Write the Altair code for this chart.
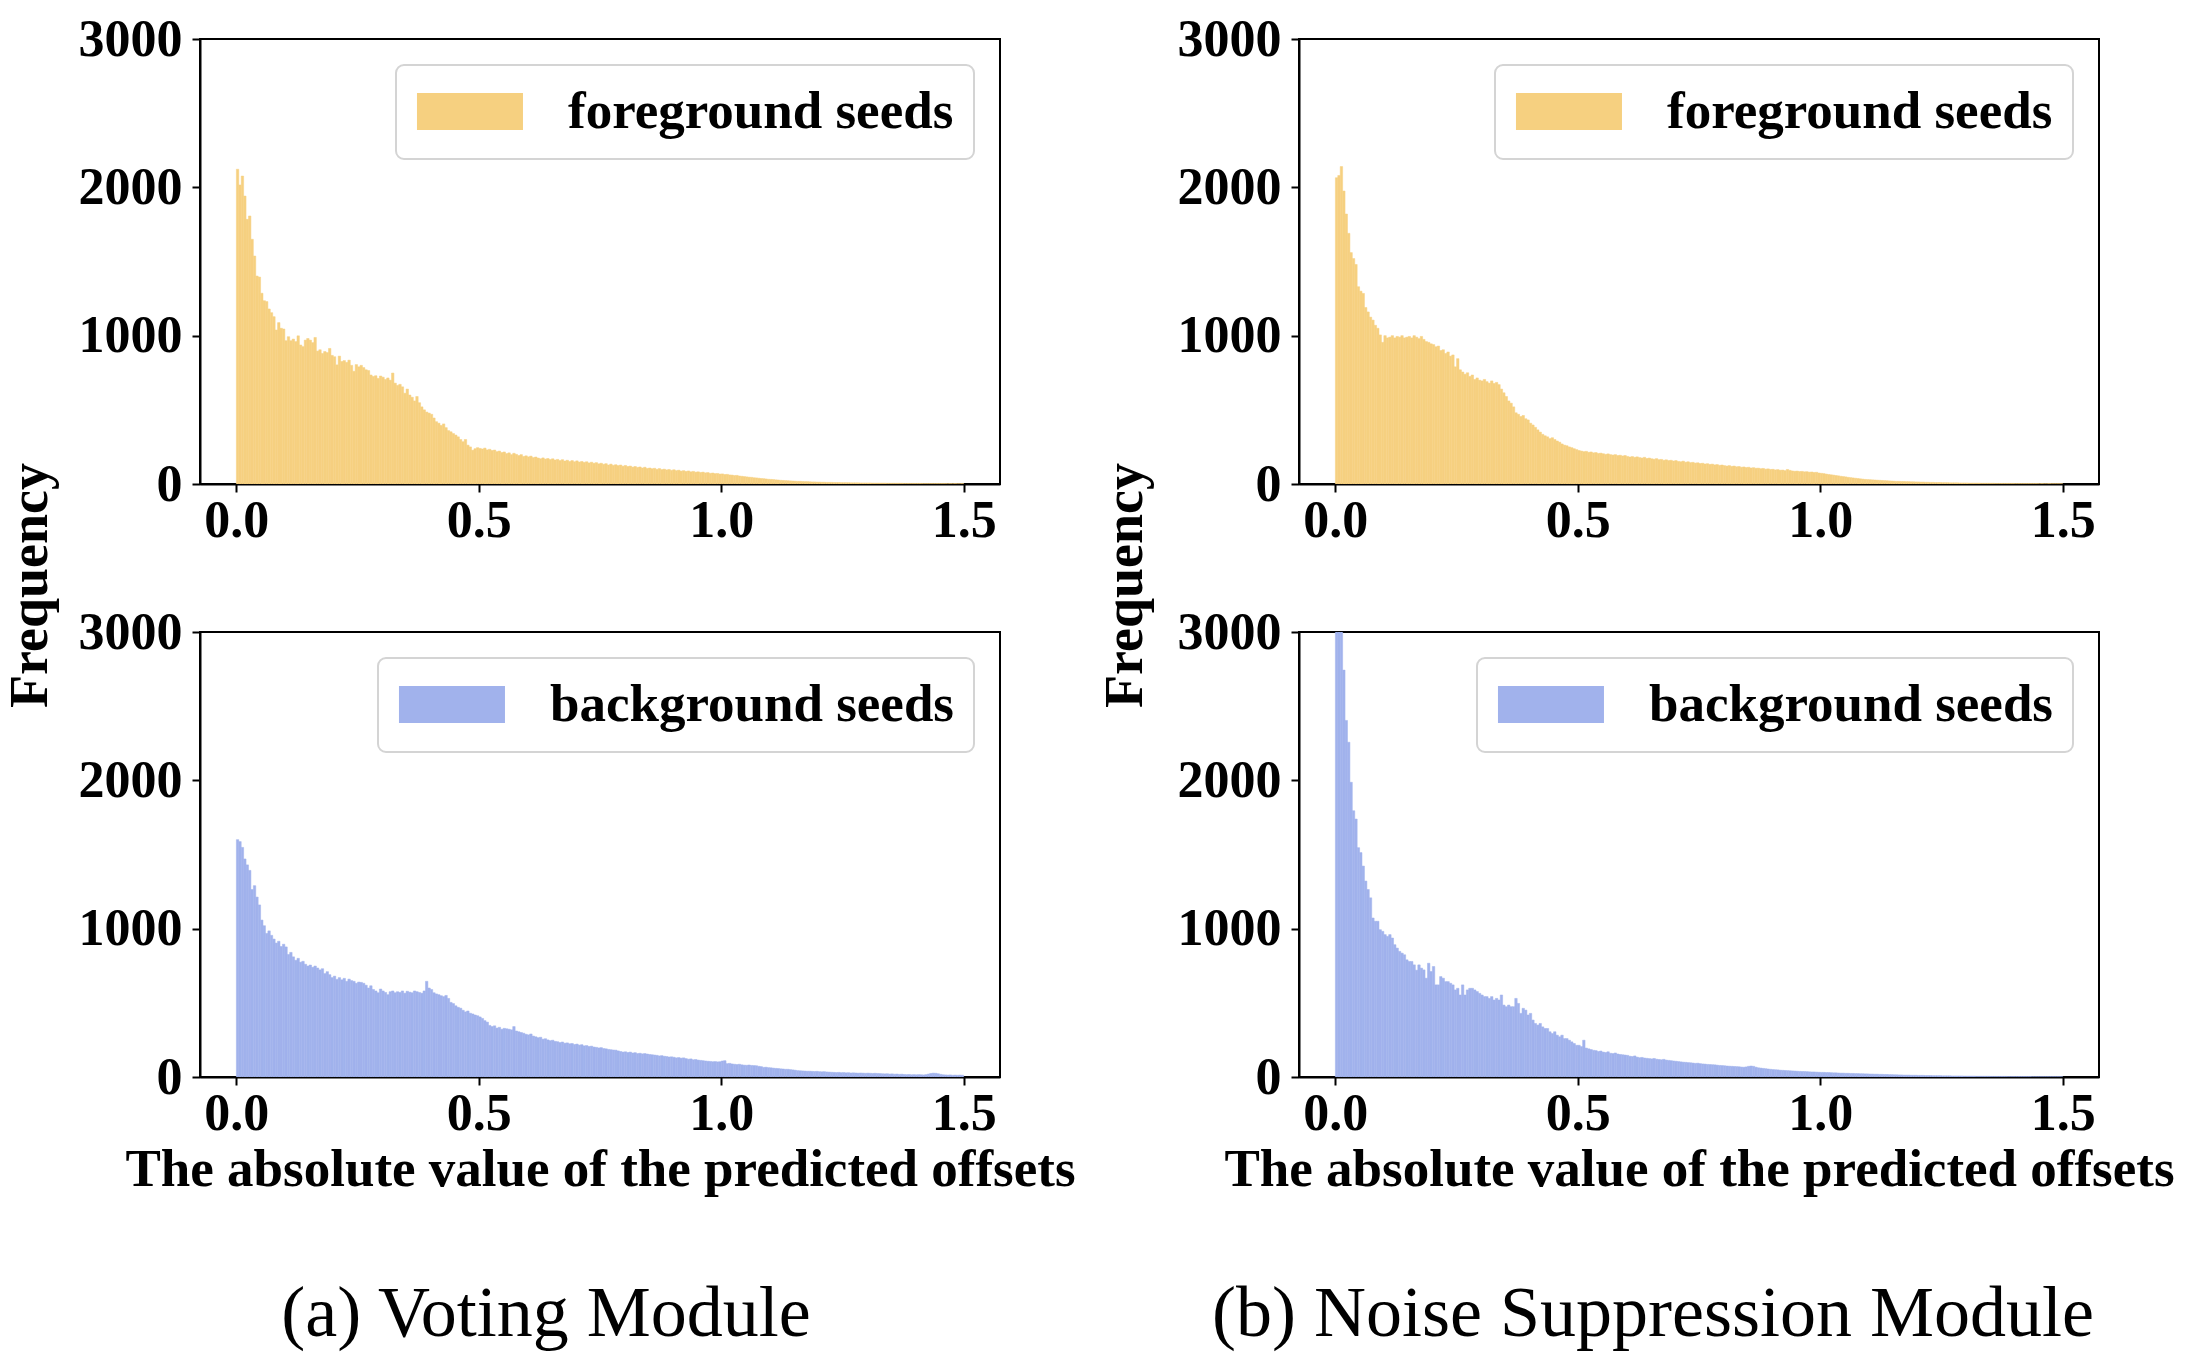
import altair as alt
import pandas as pd

# ---------------- data ----------------
BIN_WIDTH = 0.005
X_DOMAIN = [-0.075, 1.575]
Y_DOMAIN = [0, 3000]
X_TICKS = [0.0, 0.5, 1.0, 1.5]
Y_TICKS = [0, 1000, 2000, 3000]

SERIES = ["foreground seeds", "background seeds"]
COLORS = ["#f6d080", "#a1b2ec"]
CAPTIONS = ["(a) Voting Module", "(b) Noise Suppression Module"]
X_TITLE = "The absolute value of the predicted offsets"
Y_TITLE = "Frequency"

# (a) Voting Module, foreground seeds: counts per bin of width 0.005 on [0, 1.5)
FG_VOTE = [
    2122, 2016, 2076, 1941, 1784, 1807, 1650, 1537, 1402, 1395, 1286, 1236, 1230, 1180, 1155, 1128, 1038, 1088, 1050, 1045,
    966, 993, 966, 977, 960, 999, 937, 926, 970, 981, 970, 953, 988, 896, 905, 880, 893, 886, 914, 867,
    858, 803, 862, 826, 832, 820, 835, 800, 760, 805, 790, 800, 785, 770, 765, 735, 725, 730, 712, 728,
    720, 705, 715, 700, 748, 680, 665, 672, 655, 612, 640, 600, 585, 560, 590, 548, 520, 500, 485, 478,
    470, 445, 420, 410, 395, 405, 380, 360, 352, 340, 330, 318, 300, 285, 300, 262, 250, 228, 238, 245,
    240, 236, 242, 230, 234, 226, 229, 218, 222, 212, 216, 205, 210, 198, 207, 200, 192, 198, 186, 190,
    183, 188, 178, 182, 175, 170, 176, 168, 172, 165, 170, 162, 166, 158, 164, 155, 160, 152, 158, 150,
    156, 148, 152, 146, 150, 142, 147, 140, 144, 136, 140, 133, 137, 128, 134, 126, 130, 124, 128, 120,
    125, 118, 121, 114, 118, 112, 115, 108, 113, 105, 108, 103, 106, 99, 104, 97, 100, 95, 98, 92,
    96, 90, 93, 87, 90, 85, 88, 82, 85, 80, 82, 78, 80, 75, 77, 72, 74, 70, 71, 67,
    68, 64, 65, 61, 60, 57, 58, 54, 52, 50, 48, 46, 45, 42, 41, 39, 37, 36, 34, 32,
    31, 30, 28, 27, 25, 24, 23, 22, 21, 20, 19, 18, 18, 17, 16, 16, 15, 14, 14, 13,
    13, 12, 12, 11, 11, 11, 10, 10, 10, 9, 9, 9, 9, 8, 8, 8, 8, 7, 7, 7,
    7, 7, 6, 6, 6, 6, 6, 6, 5, 5, 5, 5, 5, 5, 5, 4, 4, 4, 4, 4,
    4, 4, 4, 3, 3, 3, 3, 3, 3, 3, 3, 3, 3, 2, 3, 2, 3, 2, 2, 3,
]

# (a) Voting Module, background seeds
BG_VOTE = [
    1600, 1587, 1548, 1470, 1430, 1393, 1264, 1290, 1213, 1160, 1058, 1020, 968, 985, 955, 930, 903, 915, 880, 895,
    877, 826, 840, 810, 787, 800, 774, 780, 760, 748, 755, 740, 748, 735, 722, 730, 697, 710, 690, 670,
    680, 658, 670, 655, 665, 645, 660, 650, 645, 632, 640, 638, 632, 619, 600, 615, 590, 580, 568, 593,
    580, 570, 555, 575, 580, 568, 575, 570, 580, 565, 578, 572, 568, 580, 575, 570, 565, 580, 645, 600,
    590, 568, 560, 555, 548, 542, 550, 530, 503, 495, 480, 470, 464, 450, 439, 445, 430, 425, 418, 413,
    405, 395, 380, 370, 348, 340, 345, 330, 335, 322, 328, 325, 322, 318, 340, 310, 305, 300, 295, 288,
    284, 290, 276, 271, 265, 268, 255, 258, 250, 245, 248, 240, 238, 232, 236, 228, 230, 224, 226, 219,
    222, 215, 218, 210, 212, 206, 208, 202, 200, 196, 198, 192, 190, 186, 184, 182, 181, 176, 172, 168,
    170, 165, 168, 162, 164, 158, 160, 156, 158, 155, 152, 150, 148, 146, 142, 144, 140, 138, 135, 136,
    133, 129, 131, 127, 129, 124, 120, 122, 116, 118, 114, 112, 110, 108, 106, 105, 103, 104, 102, 103,
    108, 110, 90, 92, 88, 86, 84, 86, 82, 80, 79, 81, 78, 77, 76, 72, 70, 65, 66, 63,
    62, 60, 58, 57, 55, 54, 52, 52, 50, 48, 46, 43, 42, 41, 40, 39, 39, 38, 37, 38,
    36, 35, 36, 34, 33, 32, 31, 30, 31, 29, 30, 28, 29, 27, 28, 27, 26, 27, 26, 25,
    26, 25, 24, 25, 24, 23, 22, 21, 22, 20, 21, 19, 20, 18, 19, 17, 16, 17, 15, 16,
    15, 16, 15, 14, 16, 20, 24, 26, 25, 22, 18, 15, 14, 13, 14, 12, 13, 12, 13, 12,
]

# (b) Noise Suppression Module, foreground seeds
FG_NS = [
    2065, 2080, 2140, 1975, 1820, 1690, 1560, 1520, 1480, 1330, 1300, 1285, 1190, 1160, 1125, 1105, 1070, 1050, 1005, 955,
    1000, 985, 990, 1000, 985, 995, 990, 1000, 985, 990, 995, 985, 1000, 990, 980, 995, 975, 960, 955, 945,
    940, 925, 930, 900, 905, 880, 890, 862, 870, 790, 845, 770, 755, 740, 750, 725, 735, 705, 715, 700,
    695, 705, 690, 680, 695, 678, 685, 670, 640, 615, 590, 560, 545, 520, 480, 470, 455, 462, 440, 432,
    410, 398, 382, 365, 350, 335, 325, 318, 306, 312, 300, 290, 282, 270, 262, 258, 250, 245, 238, 232,
    226, 222, 218, 220, 214, 216, 210, 212, 206, 208, 204, 200, 203, 198, 195, 198, 192, 194, 189, 192,
    186, 182, 185, 180, 183, 178, 175, 180, 172, 175, 170, 167, 171, 164, 166, 160, 163, 158, 160, 155,
    158, 152, 150, 154, 147, 150, 144, 146, 141, 143, 138, 140, 135, 137, 132, 134, 129, 131, 126, 128,
    124, 121, 124, 119, 121, 116, 118, 113, 115, 111, 113, 108, 110, 106, 107, 103, 105, 100, 102, 98,
    99, 95, 97, 93, 94, 90, 98, 92, 88, 86, 87, 84, 85, 82, 83, 80, 81, 78, 79, 74,
    72, 70, 67, 64, 62, 60, 57, 55, 52, 50, 48, 45, 43, 41, 39, 37, 35, 33, 31, 30,
    29, 28, 27, 26, 25, 24, 23, 22, 21, 20, 19, 18, 18, 17, 17, 16, 16, 15, 15, 14,
    14, 13, 13, 12, 12, 11, 11, 10, 10, 10, 9, 9, 9, 8, 8, 8, 8, 7, 7, 7,
    7, 6, 6, 6, 6, 6, 5, 5, 5, 5, 5, 5, 4, 4, 4, 4, 4, 4, 4, 4,
    3, 3, 3, 3, 3, 3, 3, 3, 3, 3, 2, 3, 2, 2, 3, 2, 2, 2, 2, 2,
]

# (b) Noise Suppression Module, background seeds (first bins run above 3000)
BG_NS = [
    3800, 3300, 3050, 2743, 2404, 2257, 1987, 1795, 1739, 1546, 1513, 1422, 1321, 1264, 1208, 1072, 1050, 1050, 993, 982,
    960, 948, 960, 937, 892, 869, 847, 835, 824, 790, 779, 779, 756, 720, 756, 734, 722, 666, 767, 711,
    745, 621, 621, 677, 666, 643, 643, 632, 621, 587, 598, 553, 621, 553, 587, 598, 598, 587, 576, 564,
    553, 542, 542, 530, 542, 519, 530, 519, 553, 485, 474, 485, 474, 474, 530, 496, 429, 463, 451, 418,
    429, 384, 361, 350, 361, 338, 327, 327, 305, 293, 305, 282, 271, 282, 259, 259, 248, 237, 226, 214,
    214, 205, 248, 195, 190, 185, 180, 178, 172, 175, 168, 165, 170, 160, 158, 162, 155, 152, 150, 148,
    146, 140, 138, 142, 134, 130, 132, 128, 126, 124, 122, 125, 120, 118, 116, 119, 114, 112, 110, 108,
    106, 104, 102, 100, 99, 97, 96, 94, 92, 93, 90, 88, 87, 85, 84, 83, 82, 80, 78, 77,
    76, 74, 73, 72, 71, 70, 69, 67, 66, 68, 72, 74, 72, 66, 62, 60, 58, 56, 54, 52,
    50, 49, 48, 46, 45, 44, 43, 42, 41, 40, 39, 38, 37, 37, 36, 35, 34, 34, 33, 32,
    31, 31, 30, 30, 29, 28, 28, 27, 26, 26, 25, 25, 24, 24, 23, 23, 22, 22, 21, 21,
    20, 20, 19, 19, 18, 18, 17, 17, 16, 16, 15, 15, 14, 14, 13, 13, 13, 12, 12, 12,
    11, 11, 11, 10, 10, 10, 9, 9, 9, 9, 8, 8, 8, 8, 7, 7, 7, 7, 7, 6,
    6, 6, 6, 6, 5, 5, 5, 5, 5, 5, 4, 4, 4, 4, 4, 4, 4, 3, 3, 3,
    3, 3, 3, 3, 3, 3, 3, 2, 2, 2, 2, 2, 2, 2, 2, 2, 2, 2, 2, 2,
]

# ---------------- styling ----------------
FONT = "Liberation Serif"
PW, PH = 800, 445


def make_df(counts, label):
    n = len(counts)
    return pd.DataFrame({
        "lo": [round(i * BIN_WIDTH, 4) for i in range(n)],
        "hi": [round((i + 1) * BIN_WIDTH, 4) for i in range(n)],
        "count": counts,
        "series": [label] * n,
    })


def panel(counts, label, color, top, y_title_x, caption=None, caption_dx=0):
    df = make_df(counts, label)

    x_axis_kw = dict(values=X_TICKS, format=".1f", labelFlush=False,
                     labelBaseline="alphabetic", labelPadding=44)
    if not top:
        x_axis_kw.update(titleBaseline="alphabetic", titleY=108, titleAnchor="middle")
    y_axis_kw = dict(values=Y_TICKS, format="d", labelPadding=10, labelBaseline="middle")
    if top:
        y_axis_kw.update(titleAngle=270, titleX=y_title_x, titleY=546,
                         titleAlign="center", titleBaseline="alphabetic", titleFontSize=54)

    legend = alt.Legend(
        orient="top-right", offset=26, padding=20,
        fillColor="white", strokeColor="#d4d4d4", cornerRadius=8,
        labelFont=FONT, labelFontSize=53, labelFontWeight="bold", labelColor="black",
        labelLimit=2000, labelOffset=99,
        symbolType="M-1.38,-1H4.35V1H-1.38Z", symbolSize=1369,
        symbolStrokeWidth=0, symbolOpacity=1,
    )

    ch = alt.Chart(df).mark_rect(clip=True).encode(
        x=alt.X("lo:Q", scale=alt.Scale(domain=X_DOMAIN, nice=False, zero=False),
                axis=alt.Axis(**x_axis_kw), title=None if top else X_TITLE),
        x2="hi:Q",
        y=alt.Y("count:Q", scale=alt.Scale(domain=Y_DOMAIN, nice=False),
                axis=alt.Axis(**y_axis_kw), title=Y_TITLE if top else None),
        y2=alt.datum(0),
        color=alt.Color("series:N", scale=alt.Scale(domain=[label], range=[color]),
                        legend=legend, title=None),
        stroke=alt.value(color),
        strokeWidth=alt.value(0.5),
    ).properties(width=PW, height=PH)

    if caption:
        ch = ch.properties(title=alt.TitleParams(
            text=caption, orient="bottom", frame="group", baseline="alphabetic",
            anchor="middle", offset=140, dx=caption_dx,
            font=FONT, fontSize=72, fontWeight="normal", color="black"))
    return ch


tl = panel(FG_VOTE, SERIES[0], COLORS[0], True, -154)
tr = panel(FG_NS, SERIES[0], COLORS[0], True, -158)
bl = panel(BG_VOTE, SERIES[1], COLORS[1], False, -154, CAPTIONS[0], -54)
br = panel(BG_NS, SERIES[1], COLORS[1], False, -158, CAPTIONS[1], -46)

chart = alt.ConcatChart(
    concat=[tl, tr, bl, br], columns=2,
    spacing={"row": 148, "column": 299}, bounds="flush",
).resolve_scale(color="independent").resolve_legend(color="independent")

chart = chart.properties(
    autosize=alt.AutoSizeParams(type="none"),
    padding={"left": 192, "top": 31, "right": 1980, "bottom": 1313},
    background="white",
).configure_view(
    stroke="black", strokeWidth=2
).configure_axis(
    grid=False,
    domainColor="black", domainWidth=2,
    tickColor="black", tickWidth=2, tickSize=8,
    labelFont=FONT, labelFontSize=52, labelFontWeight="bold", labelColor="black",
    titleFont=FONT, titleFontSize=53, titleFontWeight="bold", titleColor="black",
).configure_legend(
    strokeWidth=2
)

chart.save("out.html", embed_options={"renderer": "svg", "actions": False})
